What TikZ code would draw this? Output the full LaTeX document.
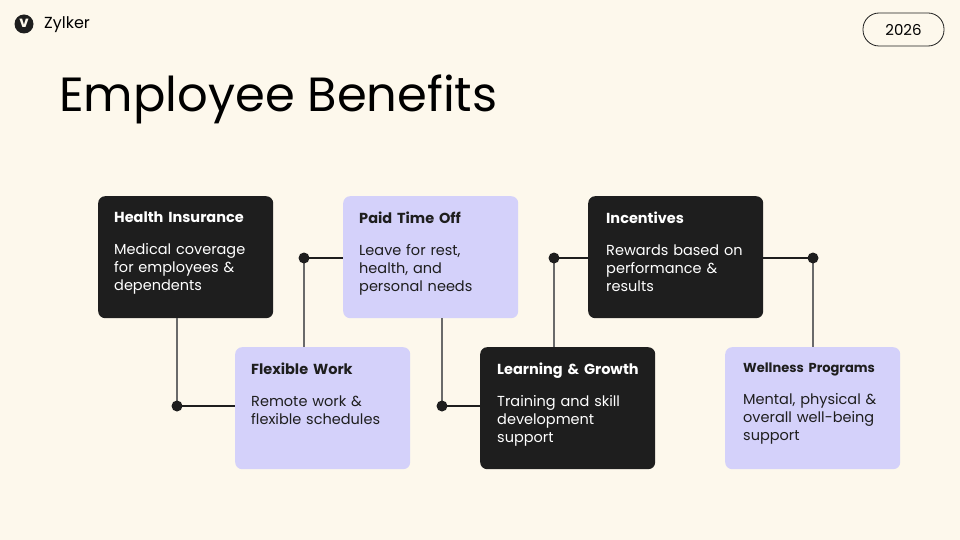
\documentclass[tikz,border=0pt]{standalone}
\usepackage{fontspec}
\setmainfont{Poppins}
\definecolor{pagebg}{HTML}{FDF8EC}
\definecolor{boxdark}{HTML}{1E1E1E}
\definecolor{boxlav}{HTML}{D4D1FA}
\definecolor{linegray}{HTML}{6A6A6A}
\tikzstyle{card} = [rectangle, rounded corners=7pt, minimum width=175pt,
    minimum height=122pt, anchor=north west, inner sep=0pt]
\tikzstyle{darkcard} = [card, fill=boxdark]
\tikzstyle{lavcard} = [card, fill=boxlav]
\tikzstyle{cardtext} = [anchor=north west, text width=155pt, align=left,
    inner sep=0pt, font=\fontsize{14.5}{18}\selectfont]
\tikzstyle{dot} = [circle, fill=boxdark, minimum size=11pt, inner sep=0pt]
\tikzstyle{link} = [draw, line width=1.3pt]
\newcommand{\cardbody}[2]{{\bfseries #1}\\[14pt]#2}

\begin{document}
\begin{tikzpicture}[x=1pt, y=-1pt]
  \fill[pagebg] (0,0) rectangle (960,540);
  \useasboundingbox (0,0) rectangle (960,540);
  % header
  \node [circle, fill=boxdark, minimum size=19pt, inner sep=0pt] (logo) at (24,24) {};
  \node [text=pagebg, font=\bfseries\fontsize{15}{15}\selectfont] at (24,23) {v};
  \node [anchor=west, inner sep=0pt, font=\fontsize{16}{16}\selectfont] (brand) at (44,25) {Zylker};
  \node [draw=boxdark, line width=0.8pt, rounded corners=16pt, minimum width=81pt,
    minimum height=33pt, font=\fontsize{15}{15}\selectfont] (year) at (903.5,29.5) {2026};
  \node [anchor=west, inner sep=0pt, font=\fontsize{48}{48}\selectfont] (title) at (59,99) {Employee Benefits};
  % cards
  \node [darkcard] (health) at (98,196) {};
  \node [lavcard] (paid) at (343,196) {};
  \node [darkcard] (incent) at (588,196) {};
  \node [lavcard] (flex) at (235,347) {};
  \node [darkcard] (learn) at (480,347) {};
  \node [lavcard] (well) at (725,347) {};
  \node [cardtext, text=white] at (114,212) {\cardbody{Health Insurance}{Medical coverage\\for employees \&\\dependents}};
  \node [cardtext, text=boxdark] at (359,212) {\cardbody{Paid Time Off}{Leave for rest,\\health, and\\personal needs}};
  \node [cardtext, text=white] at (606,212) {\cardbody{Incentives}{Rewards based on\\performance \&\\results}};
  \node [cardtext, text=boxdark] at (251,363) {\cardbody{Flexible Work}{Remote work \&\\flexible schedules}};
  \node [cardtext, text=white] at (497,363) {\cardbody{Learning \& Growth}{Training and skill\\development\\support}};
  \node [cardtext, text=boxdark] at (743,363) {\cardbody{\fontsize{13}{18}\selectfont Wellness Programs}{Mental, physical \&\\overall well-being\\support}};
  % connectors
  \coordinate (d1) at (177,406);
  \coordinate (d2) at (304,258);
  \coordinate (d3) at (442,406);
  \coordinate (d4) at (554,258);
  \coordinate (d5) at (813,258);
  \path [link, draw=linegray] (health.south west) ++(79,0) |- (d1);
  \path [link, draw=boxdark] (d1) -- (flex.west |- d1);
  \path [link, draw=linegray] (flex.north west) ++(69,0) |- (d2);
  \path [link, draw=boxdark] (d2) -- (paid.west |- d2);
  \path [link, draw=linegray] (paid.south west) ++(99,0) |- (d3);
  \path [link, draw=boxdark] (d3) -- (learn.west |- d3);
  \path [link, draw=linegray] (learn.north west) ++(74,0) |- (d4);
  \path [link, draw=boxdark] (d4) -- (incent.west |- d4);
  \path [link, draw=boxdark] (incent.east |- d5) -- (d5);
  \path [link, draw=linegray] (d5) -- (well.north -| d5);
  \foreach \d in {d1,d2,d3,d4,d5}
    \node [dot] at (\d) {};
\end{tikzpicture}
\end{document}
